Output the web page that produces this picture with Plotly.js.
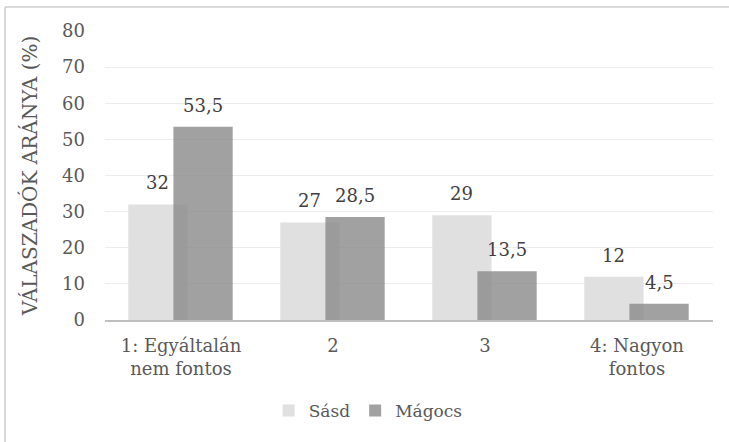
<!DOCTYPE html>
<html>
<head>
<meta charset="utf-8">
<script src="https://cdn.plot.ly/plotly-3.0.1.min.js"></script>
<style>
  html, body { margin: 0; padding: 0; background: #ffffff; }
  #chart { width: 729px; height: 442px; }
</style>
</head>
<body>
<div id="chart"></div>
<script>
const categories = ["1: Egyáltalán<br>nem fontos", "2", "3", "4: Nagyon<br>fontos"];
const seriesNames = ["Sásd", "Mágocs"];
const sasdValues = [32, 27, 29, 12];
const magocsValues = [53.5, 28.5, 13.5, 4.5];
const sasdLabels = ["32", "27", "29", "12"];
const magocsLabels = ["53,5", "28,5", "13,5", "4,5"];
const yTitle = "VÁLASZADÓK ARÁNYA (%)";

const FONT = "DejaVu Serif";
const FS = 18;
const TXT = "#595959";

// plot area in pixels
const L = 105, R = 713, T = 31, B = 320, W = 729, H = 442;
const px = x => (x - L) / (R - L);
const py = y => (B - y) / (B - T);

const barW = 0.39;
const offS = -0.347, offM = -0.05;

const traces = [
  {
    type: "bar", name: seriesNames[0], x: categories, y: sasdValues,
    width: barW, offset: offS,
    marker: { color: "#e0e0e0", line: { width: 0 } },
    hoverinfo: "skip"
  },
  {
    type: "bar", name: seriesNames[1], x: categories, y: magocsValues,
    width: barW, offset: offM,
    marker: { color: "rgba(138,138,138,0.8)", line: { width: 0 } },
    hoverinfo: "skip"
  }
];

const annotations = [];
categories.forEach((c, i) => {
  annotations.push({
    x: i + offS + barW / 2, y: sasdValues[i], xref: "x", yref: "y",
    text: sasdLabels[i], showarrow: false, yanchor: "bottom", yshift: 9,
    font: { family: FONT, size: FS, color: "#404040" }
  });
  annotations.push({
    x: i + offM + barW / 2, y: magocsValues[i], xref: "x", yref: "y",
    text: magocsLabels[i], showarrow: false, yanchor: "bottom", yshift: 9,
    font: { family: FONT, size: FS, color: "#404040" }
  });
});

const layout = {
  width: W, height: H,
  paper_bgcolor: "#ffffff", plot_bgcolor: "#ffffff",
  margin: { l: L, r: W - R, t: T, b: H - B, pad: 0 },
  barmode: "overlay",
  font: { family: FONT, size: FS, color: TXT },
  showlegend: true,
  legend: {
    orientation: "h", xref: "container", yref: "container",
    x: 0.505, xanchor: "center", y: (H - 411) / H, yanchor: "middle",
    font: { family: FONT, size: 17, color: TXT },
    itemwidth: 30, traceorder: "normal"
  },
  xaxis: {
    type: "category", showgrid: false, zeroline: false,
    showline: true, linecolor: "#bfbfbf", linewidth: 2,
    ticks: "", ticklabelstandoff: 8,
    tickfont: { family: FONT, size: FS, color: TXT },
    fixedrange: true
  },
  yaxis: {
    range: [0, 80], dtick: 10, tick0: 0,
    showgrid: true, gridcolor: "#ececec", gridwidth: 1,
    zeroline: false, showline: false, ticks: "",
    ticklabelstandoff: 19,
    tickfont: { family: FONT, size: FS, color: TXT },
    title: { text: yTitle, font: { family: FONT, size: 20, color: TXT }, standoff: 19 },
    fixedrange: true
  },
  annotations: annotations,
  shapes: [
    { type: "line", xref: "paper", yref: "paper", x0: px(5), x1: px(729), y0: py(7), y1: py(7),
      line: { color: "#d9d9d9", width: 2 } },
    { type: "line", xref: "paper", yref: "paper", x0: px(5), x1: px(5), y0: py(7), y1: py(442),
      line: { color: "#d9d9d9", width: 2 } }
  ]
};

Plotly.newPlot("chart", traces, layout, { displayModeBar: false, staticPlot: true });
</script>
</body>
</html>
